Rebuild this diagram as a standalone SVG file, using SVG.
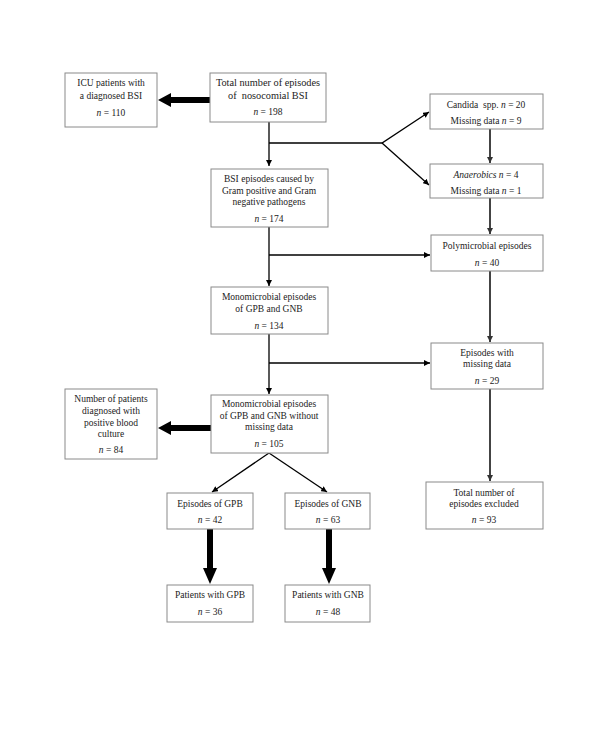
<svg xmlns="http://www.w3.org/2000/svg" width="600" height="729" viewBox="0 0 600 729">
<defs>
<marker id="ah" viewBox="0 0 10 10" refX="10" refY="5" markerWidth="6" markerHeight="6" markerUnits="userSpaceOnUse" orient="auto"><path d="M0,0 L10,5 L0,10 z" fill="#000"/></marker>
<marker id="ahg" viewBox="0 0 10 10" refX="10" refY="5" markerWidth="6" markerHeight="6" markerUnits="userSpaceOnUse" orient="auto"><path d="M0,0 L10,5 L0,10 z" fill="#333"/></marker>
</defs>
<style>
rect.b{fill:#fff;stroke:#8a8a8a;stroke-width:1}
text{font-family:"Liberation Serif","Times New Roman",serif;font-size:9.5px;fill:#222;text-anchor:middle}
.i{font-style:italic}
.ln{fill:none;stroke:#000;stroke-width:1.3}
.lg{fill:none;stroke:#444;stroke-width:2}
.thick{fill:#000}
</style>
<rect width="600" height="729" fill="#fff"/>
<g id="connectors">
<path class="ln" d="M269,122 V166" marker-end="url(#ah)"/>
<path class="ln" d="M269,143 H382 L429,112" marker-end="url(#ah)"/>
<path class="ln" d="M382,143 L429,185" marker-end="url(#ah)"/>
<path class="lg" d="M490,129 V163" marker-end="url(#ahg)"/>
<path class="lg" d="M490,198 V234" marker-end="url(#ahg)"/>
<path class="ln" d="M269,227 V286" marker-end="url(#ah)"/>
<path class="ln" d="M269,255 H430" marker-end="url(#ah)"/>
<path class="lg" d="M490,271 V342" marker-end="url(#ahg)"/>
<path class="ln" d="M269,334 V394" marker-end="url(#ah)"/>
<path class="ln" d="M269,363 H430" marker-end="url(#ah)"/>
<path class="lg" d="M490,389 V481" marker-end="url(#ahg)"/>
<path class="ln" d="M269,453 L212,492" marker-end="url(#ah)"/>
<path class="ln" d="M269,453 L327,492" marker-end="url(#ah)"/>
<polygon class="thick" points="210,97 171,97 171,93 158,100 171,107 171,103 210,103"/>
<polygon class="thick" points="211,425 171,425 171,421 158,428 171,435 171,431 211,431"/>
<polygon class="thick" points="207,529 213,529 213,568 217,568 210,584 203,568 207,568"/>
<polygon class="thick" points="326,529 332,529 332,568 336,568 329,584 322,568 326,568"/>
</g>
<g id="icu"><rect class="b" x="65" y="73" width="92" height="54"/>
<text x="111" y="86">ICU patients with</text><text x="111" y="99">a diagnosed BSI</text><text x="111" y="116"><tspan class="i">n</tspan> = 110</text></g>
<g id="total"><rect class="b" x="210" y="73" width="116" height="49"/>
<text x="268" y="86" style="font-size:10.3px">Total number of episodes</text><text x="268" y="99" style="font-size:10.3px">of &#160;nosocomial BSI</text><text x="268" y="115"><tspan class="i">n</tspan> = 198</text></g>
<g id="candida"><rect class="b" x="430" y="94" width="113" height="35"/>
<text x="486" y="108">Candida &#160;spp. <tspan class="i">n</tspan> = 20</text><text x="486" y="124">Missing data <tspan class="i">n</tspan> = 9</text></g>
<g id="anaerobics"><rect class="b" x="430" y="164" width="113" height="34"/>
<text x="486" y="178"><tspan class="i">Anaerobics n</tspan> = 4</text><text x="486" y="194">Missing data <tspan class="i">n</tspan> = 1</text></g>
<g id="bsi"><rect class="b" x="211" y="169" width="117" height="58"/>
<text x="269" y="182">BSI episodes caused by</text><text x="269" y="194">Gram positive and Gram</text><text x="269" y="205">negative pathogens</text><text x="269" y="222"><tspan class="i">n</tspan> = 174</text></g>
<g id="poly"><rect class="b" x="431" y="235" width="112" height="36"/>
<text x="487" y="249">Polymicrobial episodes</text><text x="487" y="266"><tspan class="i">n</tspan> = 40</text></g>
<g id="mono"><rect class="b" x="211" y="287" width="117" height="47"/>
<text x="269" y="300">Monomicrobial episodes</text><text x="269" y="312">of GPB and GNB</text><text x="269" y="329"><tspan class="i">n</tspan> = 134</text></g>
<g id="missing"><rect class="b" x="431" y="343" width="112" height="46"/>
<text x="487" y="356">Episodes with</text><text x="487" y="367">missing data</text><text x="487" y="384"><tspan class="i">n</tspan> = 29</text></g>
<g id="mono2"><rect class="b" x="211" y="395" width="117" height="58"/>
<text x="269" y="407">Monomicrobial episodes</text><text x="269" y="419">of GPB and GNB without</text><text x="269" y="430">missing data</text><text x="269" y="447"><tspan class="i">n</tspan> = 105</text></g>
<g id="patients"><rect class="b" x="65" y="389" width="92" height="70"/>
<text x="111" y="402">Number of patients</text><text x="111" y="414">diagnosed with</text><text x="111" y="426">positive blood</text><text x="111" y="437">culture</text><text x="111" y="453"><tspan class="i">n</tspan> = 84</text></g>
<g id="gpb"><rect class="b" x="167" y="493" width="86" height="36"/>
<text x="210" y="507">Episodes of GPB</text><text x="210" y="523"><tspan class="i">n</tspan> = 42</text></g>
<g id="gnb"><rect class="b" x="285" y="493" width="85" height="36"/>
<text x="328" y="507">Episodes of GNB</text><text x="328" y="523"><tspan class="i">n</tspan> = 63</text></g>
<g id="pgpb"><rect class="b" x="167" y="585" width="86" height="37"/>
<text x="210" y="598">Patients with GPB</text><text x="210" y="615"><tspan class="i">n</tspan> = 36</text></g>
<g id="pgnb"><rect class="b" x="285" y="585" width="85" height="37"/>
<text x="328" y="598">Patients with GNB</text><text x="328" y="615"><tspan class="i">n</tspan> = 48</text></g>
<g id="excluded"><rect class="b" x="426" y="482" width="117" height="47"/>
<text x="484" y="496">Total number of</text><text x="484" y="507">episodes excluded</text><text x="484" y="523"><tspan class="i">n</tspan> = 93</text></g>
</svg>
